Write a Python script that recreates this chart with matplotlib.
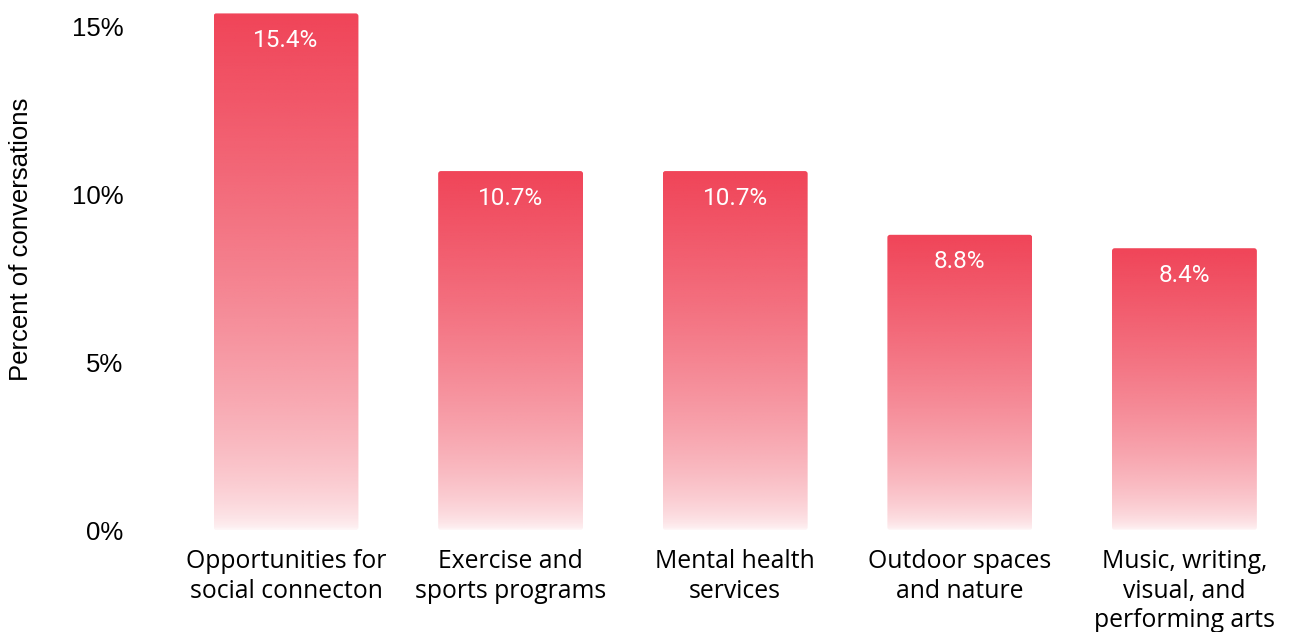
import matplotlib
matplotlib.use("Agg")
import matplotlib.pyplot as plt
import numpy as np
from matplotlib.patches import FancyBboxPatch

# 데이터
categories = ["Opportunities for\nsocial connecton", "Exercise and\nsports programs",
              "Mental health\nservices", "Outdoor spaces\nand nature",
              "Music, writing,\nvisual, and\nperforming arts"]
values = [15.4, 10.7, 10.7, 8.8, 8.4]
value_labels = ["15.4%", "10.7%", "10.7%", "8.8%", "8.4%"]
yticks = [0, 5, 10, 15]
ytick_labels = ["0%", "5%", "10%", "15%"]

W, H = 1290, 632
fig = plt.figure(figsize=(W / 100, H / 100), dpi=100)
ax = fig.add_axes([140 / W, (H - 530) / H, 1150 / W, 530 / H])

x = np.arange(len(values))
bars = ax.bar(x, values, width=0.645, color="none", edgecolor="none")

# 세로 그라데이션 (위: 진한 빨강, 아래: 거의 흰색)
red = np.array([240, 68, 88]) / 255
grad = np.linspace(0, 1, 256).reshape(-1, 1) ** 0.6
rgba = np.zeros((256, 1, 4))
rgba[..., :3] = red
rgba[..., 3] = 0.05 + 0.95 * grad

for b in bars:
    x0, w, h = b.get_x(), b.get_width(), b.get_height()
    im = ax.imshow(rgba, extent=[x0, x0 + w, 0, h], origin="lower",
                   aspect="auto", zorder=2, interpolation="bilinear")
    clip = FancyBboxPatch((x0, 0), w, h, boxstyle="round,pad=0,rounding_size=0.012",
                          mutation_aspect=15.8 / 530 * 224.6,
                          transform=ax.transData, facecolor="none", edgecolor="none")
    ax.add_patch(clip)
    im.set_clip_path(clip)

for xi, v, lab in zip(x, values, value_labels):
    ax.annotate(lab, (xi, v), xytext=(0, -27), textcoords="offset pixels",
                ha="center", va="center", color="white", fontsize=17.5,
                family="Roboto", zorder=5)

ax.set_xlim(-0.65, 4.47)
ax.set_ylim(0, 15.8)
ax.set_xticks(x)
ax.set_xticklabels(categories, family="Open Sans", fontsize=17.8, linespacing=1.22,
                   va="top")
ax.set_yticks(yticks)
ax.set_yticklabels(ytick_labels, family="Liberation Sans", fontsize=18.5)
ax.tick_params(length=0, pad=14)
ax.tick_params(axis="y", pad=12)
ax.set_ylabel("Percent of conversations", family="Liberation Sans", fontsize=18.5)
ax.yaxis.set_label_coords(-0.093, 0.549)
for s in ax.spines.values():
    s.set_visible(False)

fig.savefig("out.png", dpi=100, facecolor="white")
